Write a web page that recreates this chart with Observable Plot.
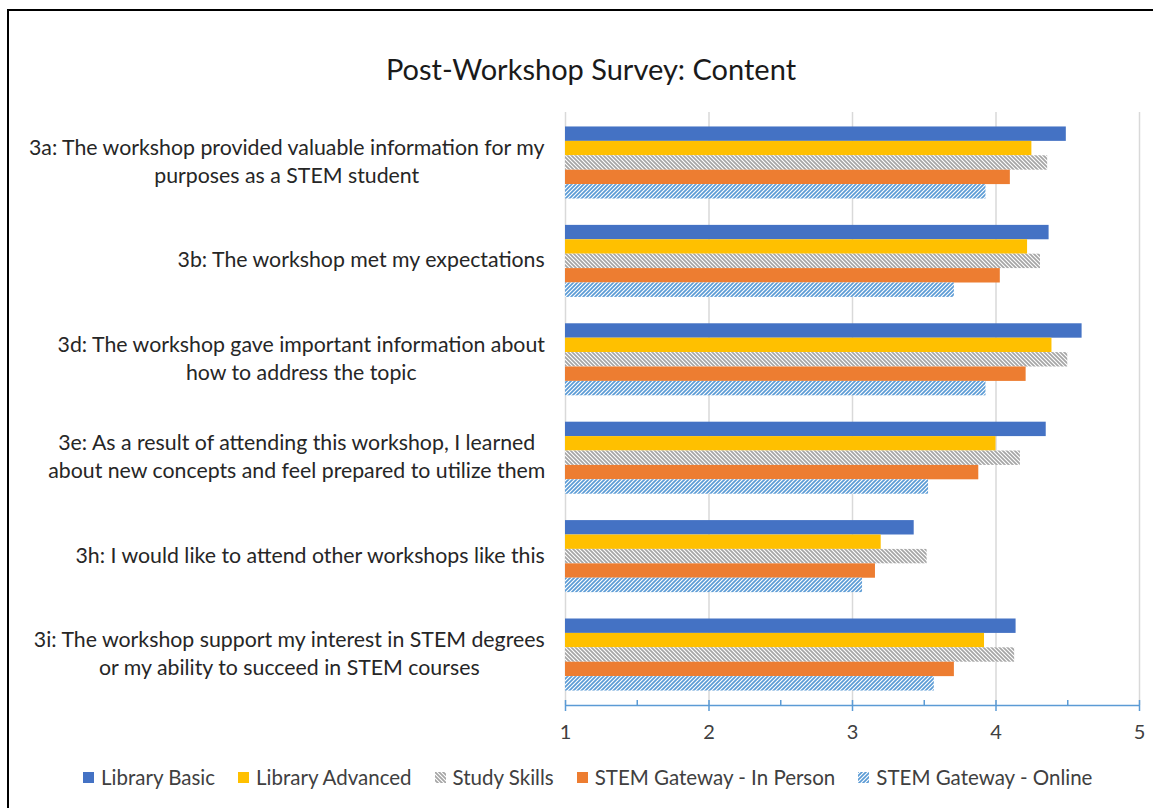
<!DOCTYPE html>
<html>
<head>
<meta charset="utf-8">
<script src="https://cdn.jsdelivr.net/npm/d3@7"></script>
<script src="https://cdn.jsdelivr.net/npm/@observablehq/plot@0.6"></script>
<style>
  html, body { margin: 0; padding: 0; background: #fff; width: 1153px; height: 808px; overflow: hidden; font-family: Lato, "Open Sans", sans-serif; }
  #frame { position: absolute; left: 7px; top: 9px; width: 1300px; height: 1000px; border: 2.5px solid #000; box-sizing: border-box; }
  #title { position: absolute; left: 0; width: 1182px; top: 51px; text-align: center; font-size: 29px; color: #1a1a1a; line-height: 36px; }
  #chart { position: absolute; left: 0; top: 100px; }
  #legend { position: absolute; left: 83px; top: 764px; display: flex; align-items: center; font-size: 20.5px; color: #404040; line-height: 26px; white-space: nowrap; }
  #legend .item { display: flex; align-items: center; margin-right: 23px; }
  #legend svg { margin-right: 7px; }
</style>
</head>
<body>
<svg width="0" height="0" style="position:absolute">
  <defs>
    <pattern id="hatchGray" patternUnits="userSpaceOnUse" width="4" height="4">
      <rect width="4" height="4" fill="#ffffff"/>
      <path d="M-1,-1 L5,5 M3,-1 L5,1 M-1,3 L1,5" stroke="#a5a5a5" stroke-width="1.7"/>
    </pattern>
    <pattern id="hatchBlue" patternUnits="userSpaceOnUse" width="4" height="4">
      <rect width="4" height="4" fill="#ffffff"/>
      <path d="M-1,5 L5,-1 M-1,1 L1,-1 M3,5 L5,3" stroke="#5b9bd5" stroke-width="1.7"/>
    </pattern>
  </defs>
</svg>
<div id="frame"></div>
<div id="title">Post-Workshop Survey: Content</div>
<div id="chart"></div>
<div id="legend"></div>
<script>
// ---- data ----
const questions = [
  "3a: The workshop provided valuable information for my\npurposes as a STEM student",
  "3b: The workshop met my expectations",
  "3d: The workshop gave important information about\nhow to address the topic",
  "3e: As a result of attending this workshop, I learned\nabout new concepts and feel prepared to utilize them",
  "3h: I would like to attend other workshops like this",
  "3i: The workshop support my interest in STEM degrees\nor my ability to succeed in STEM courses"
];
const seriesNames = ["Library Basic", "Library Advanced", "Study Skills", "STEM Gateway - In Person", "STEM Gateway - Online"];
const libraryBasic    = [4.49, 4.37, 4.60, 4.35, 3.43, 4.14];
const libraryAdvanced = [4.25, 4.22, 4.39, 4.00, 3.20, 3.92];
const studySkills     = [4.36, 4.31, 4.50, 4.17, 3.52, 4.13];
const stemInPerson    = [4.10, 4.03, 4.21, 3.88, 3.16, 3.71];
const stemOnline      = [3.93, 3.71, 3.93, 3.53, 3.07, 3.57];
const seriesValues = [libraryBasic, libraryAdvanced, studySkills, stemInPerson, stemOnline];
const seriesFills = ["#4472c4", "#ffc000", "url(#hatchGray)", "#ed7d31", "url(#hatchBlue)"];
const xTicks = [1, 2, 3, 4, 5];
const xMinorTicks = [1.5, 2.5, 3.5, 4.5];

// ---- layout ----
const width = 1153, height = 660;
const marginTop = 12, marginBottom = 55, marginLeft = 565, marginRight = 14;
const plotH = height - marginTop - marginBottom;
const padInner = 0.268, padOuter = 0.147;
const step = plotH / (questions.length - padInner + 2 * padOuter);
const bw = step * (1 - padInner);
const sub = bw / seriesNames.length;

const labelFont = 21.3;
const ctx = document.createElement("canvas").getContext("2d");
ctx.font = `${labelFont}px Lato`;
const maxLineW = q => Math.max(...q.split("\n").map(s => ctx.measureText(s).width));

const rows = seriesValues.map((vals, si) => vals.map((v, qi) => ({question: questions[qi], series: seriesNames[si], value: v})));

const axisBlue = "#5b9bd5";
const lastQ = questions[questions.length - 1];

const marks = [
  Plot.gridX(xTicks, {stroke: "#d9d9d9", strokeOpacity: 1, strokeWidth: 1.5}),
  ...rows.map((data, si) => Plot.barX(data, {
    x1: 1, x2: "value", y: "question", fill: seriesFills[si],
    insetTop: si * sub, insetBottom: (seriesNames.length - 1 - si) * sub
  })),
  ...questions.map(q => Plot.text([q], {
    y: d => d, text: d => d, frameAnchor: "left", textAnchor: "middle", lineAnchor: "middle",
    dx: -(20 + maxLineW(q) / 2), dy: -3, lineHeight: 1.31, fontSize: labelFont, fill: "#262626", fontFamily: "Lato"
  })),
  // axis line along the bottom of the plot area
  Plot.ruleY([lastQ], {y: d => d, dy: bw / 2 + padOuter * step, stroke: axisBlue, strokeWidth: 1.5}),
  Plot.ruleX(xMinorTicks, {stroke: axisBlue, strokeWidth: 1.5, insetTop: plotH - 5}),
  Plot.ruleX(xTicks, {stroke: axisBlue, strokeWidth: 1.5, insetTop: plotH - 5, insetBottom: -6}),
  Plot.axisX(xTicks, {tickSize: 0, tickFormat: d => String(d), label: null, color: "#404040", fill: "#404040", tickPadding: 19, fontSize: 20, fontFamily: "Lato"})
];

const chart = Plot.plot({
  width, height, marginTop, marginBottom, marginLeft, marginRight,
  style: {fontFamily: "Lato", background: "transparent", overflow: "visible"},
  x: {domain: [1, 5], axis: null, label: null},
  y: {domain: questions, axis: null, paddingInner: padInner, paddingOuter: padOuter, align: 0.5, round: false},
  marks
});
document.getElementById("chart").appendChild(chart);

// ---- legend ----
const legend = document.getElementById("legend");
seriesNames.forEach((name, i) => {
  const item = document.createElement("div");
  item.className = "item";
  item.innerHTML = `<svg width="11" height="11"><rect width="11" height="11" fill="${seriesFills[i]}"/></svg><span>${name}</span>`;
  legend.appendChild(item);
});
</script>
</body>
</html>
